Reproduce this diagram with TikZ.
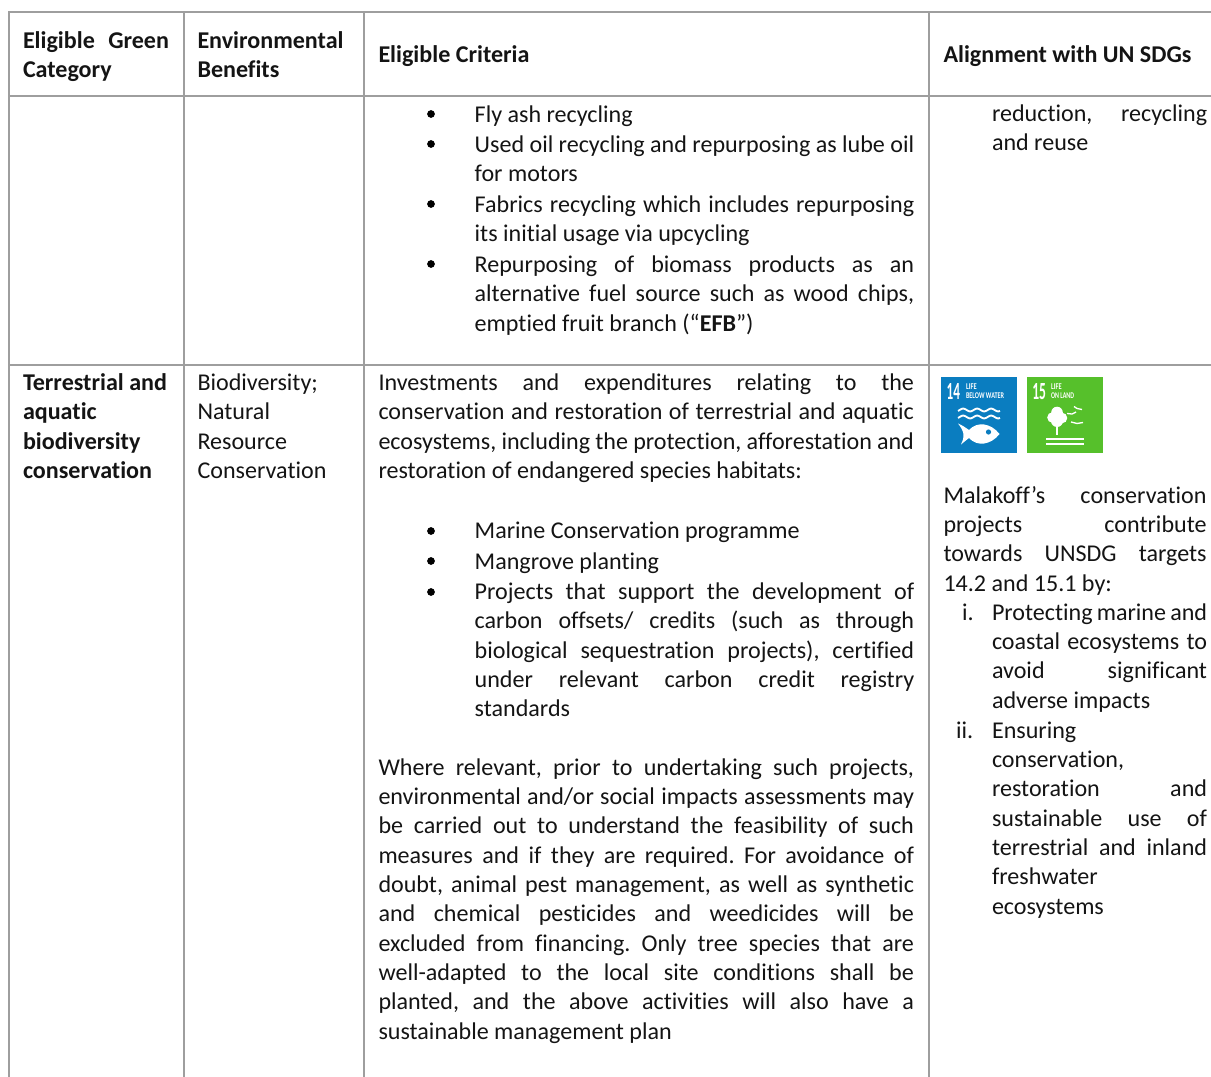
\documentclass[tikz,border=0pt]{standalone}
\usepackage{fontspec}
\usepackage{graphicx}
\setmainfont[Ligatures=NoCommon]{Carlito}
\newcommand{\Jn}[1]{\hbox to\hsize{#1}}
\newcommand{\Ln}[1]{\hbox to\hsize{#1\hfil}}
\newcommand{\para}[2]{\vtop{\hsize=#1pt\baselineskip=22pt\lineskiplimit=-10pt\relax #2}}
\newcommand{\fitbox}[3]{\resizebox{#1pt}{#2pt}{#3}}
\newcommand{\sdglabel}[2]{\vtop{\offinterlineskip\hbox{#1}\vskip2.45pt\hbox{#2}}}
\definecolor{sdgblue}{RGB}{10,125,192}
\definecolor{sdggreen}{RGB}{86,192,43}
\tikzset{
  rule/.style={draw=black!38,line width=1.5pt},
  txt/.style={anchor=base west,inner sep=0pt,outer sep=0pt,font=\fontsize{18.05}{22}\selectfont,text=black!92},
  hd/.style={txt,font=\fontsize{18.05}{22}\selectfont\bfseries},
  bul/.style={circle,fill=black,inner sep=0pt,minimum size=5.8pt},
  ic/.style={anchor=north west,inner sep=0pt,outer sep=0pt,text=white,font=\bfseries},
  icl/.style={anchor=base west,inner sep=0pt,outer sep=0pt,text=white,font=\fontsize{5}{5}\selectfont\bfseries},
  wv/.style={draw=white,line width=1.4pt},
  bird/.style={draw=white,line width=1pt}
}
\begin{document}
\begin{tikzpicture}[x=0.75pt,y=-0.75pt]
\useasboundingbox (0,0) rectangle (1211,1077);
% rules
\draw[rule] (9.2,1077) -- (9.2,12) -- (1211,12);
\draw[rule] (9.2,96) -- (1211,96);
\draw[rule] (9.2,365) -- (1211,365);
\draw[rule] (184,12) -- (184,1077);
\draw[rule] (364,12) -- (364,1077);
\draw[rule] (929,12) -- (929,1077);
% header
\node[hd] (h1) at (23,48.6) {\para{109.5}{\Jn{Eligible\hfil Green}\Ln{Category}}};
\node[hd] (h2) at (197.5,48.6) {\para{150}{\Ln{Environmental}\Ln{Benefits}}};
\node[hd] (h3) at (378.5,63) {Eligible Criteria};
\node[hd] (h4) at (943.5,63) {Alignment with UN SDGs};
% upper row
\node[bul] (b1) at (431,114) {};
\node[txt] (u1) at (474.7,122.3) {Fly ash recycling};
\node[bul] (b2) at (431,144) {};
\node[txt] (u2) at (474.7,152.3) {\para{329.6}{\Jn{Used\hfil oil\hfil recycling\hfil and\hfil repurposing\hfil as\hfil lube\hfil oil}\Ln{for motors}}};
\node[bul] (b3) at (431,204) {};
\node[txt] (u3) at (474.7,212.5) {\para{329.6}{\Jn{Fabrics\hfil recycling\hfil which\hfil includes\hfil repurposing}\Ln{its initial usage via upcycling}}};
\node[bul] (b4) at (431,264) {};
\node[txt] (u4) at (474.7,272.6) {\para{329.6}{\Jn{Repurposing\hfil of\hfil biomass\hfil products\hfil as\hfil an}\Jn{alternative\hfil fuel\hfil source\hfil such\hfil as\hfil wood\hfil chips,}\Ln{emptied fruit branch (“\textbf{EFB}”)}}};
\node[txt] (u5) at (992,121.6) {\para{161.3}{\Jn{reduction,\hfil recycling}\Ln{and reuse}}};
% lower row
\node[hd] (c1) at (23,390.4) {\para{146}{\Ln{Terrestrial and}\Ln{aquatic}\Ln{biodiversity}\Ln{conservation}}};
\node[txt] (c2) at (197.5,390.4) {\para{130}{\Ln{Biodiversity;}\Ln{Natural}\Ln{Resource}\Ln{Conservation}}};
\node[txt] (c3) at (378.5,390.4) {\para{401.6}{\Jn{Investments\hfil and\hfil expenditures\hfil relating\hfil to\hfil the}\Jn{conservation\hfil and\hfil restoration\hfil of\hfil terrestrial\hfil and\hfil aquatic}\Jn{ecosystems,\hfil including\hfil the\hfil protection,\hfil afforestation\hfil and}\Ln{restoration of endangered species habitats:}}};
\node[bul] (b5) at (431,531) {};
\node[txt] (l1) at (474.7,538.5) {Marine Conservation programme};
\node[bul] (b6) at (431,561) {};
\node[txt] (l2) at (474.7,569) {Mangrove planting};
\node[bul] (b7) at (431,592) {};
\node[txt] (l3) at (474.7,599.5) {\para{329.6}{\Jn{Projects\hfil that\hfil support\hfil the\hfil development\hfil of}\Jn{carbon\hfil offsets/\hfil credits\hfil (such\hfil as\hfil through}\Jn{biological\hfil sequestration\hfil projects),\hfil certified}\Jn{under\hfil relevant\hfil carbon\hfil credit\hfil registry}\Ln{standards}}};
\node[txt] (c4) at (378.5,775.2) {\para{401.6}{\Jn{Where\hfil relevant,\hfil prior\hfil to\hfil undertaking\hfil such\hfil projects,}\Jn{environmental\hfil and/or\hfil social\hfil impacts\hfil assessments\hfil may}\Jn{be\hfil carried\hfil out\hfil to\hfil understand\hfil the\hfil feasibility\hfil of\hfil such}\Jn{measures\hfil and\hfil if\hfil they\hfil are\hfil required.\hfil For\hfil avoidance\hfil of}\Jn{doubt,\hfil animal\hfil pest\hfil management,\hfil as\hfil well\hfil as\hfil synthetic}\Jn{and\hfil chemical\hfil pesticides\hfil and\hfil weedicides\hfil will\hfil be}\Jn{excluded\hfil from\hfil financing.\hfil Only\hfil tree\hfil species\hfil that\hfil are}\Jn{well-adapted\hfil to\hfil the\hfil local\hfil site\hfil conditions\hfil shall\hfil be}\Jn{planted,\hfil and\hfil the\hfil above\hfil activities\hfil will\hfil also\hfil have\hfil a}\Ln{sustainable management plan}}};
\node[txt] (r1) at (943.5,503.3) {\para{197.3}{\Jn{Malakoff’s\hfil conservation}\Jn{projects\hfil contribute}\Jn{towards\hfil UNSDG\hfil targets}\Ln{14.2 and 15.1 by:}}};
\node[txt] (ri) at (962,620) {i.};
\node[txt] (r2) at (992,620) {\para{161.3}{\Jn{Protecting\hfil marine\hfil and}\Jn{coastal\hfil ecosystems\hfil to}\Jn{avoid\hfil significant}\Ln{adverse impacts}}};
\node[txt] (rii) at (956,738) {ii.};
\node[txt] (r3) at (992,738) {\para{161.3}{\Ln{Ensuring}\Ln{conservation,}\Jn{restoration\hfil and}\Jn{sustainable\hfil use\hfil of}\Jn{terrestrial\hfil and\hfil inland}\Ln{freshwater}\Ln{ecosystems}}};
% SDG 14
\begin{scope}[shift={(941,377)}]
\fill[sdgblue] (0,0) rectangle (76,76);
\node[ic] (n14) at (5.7,6.3) {\fitbox{10}{12}{14}};
\node[icl] (t14) at (25,12.7) {\sdglabel{\fitbox{8}{4.3}{LIFE}}{\fitbox{28.5}{4.3}{BELOW WATER}}};
\draw[wv] plot[smooth,domain=17:59,samples=50] (\x,{33+1.4*sin(\x/14*360+60)});
\draw[wv] plot[smooth,domain=17:59,samples=50] (\x,{40+1.4*sin(\x/14*360+60)});
\fill[white] (17,46.5) .. controls (21,48) and (25,51) .. (28,53) .. controls (36,44) and (50,46) .. (58.5,57) .. controls (50,68) and (36,70) .. (28,61) .. controls (25,63) and (22,66) .. (20,67.5) .. controls (22,63) and (23,60) .. (22.5,57) .. controls (22,54) and (20,50) .. (17,46.5) -- cycle;
\fill[sdgblue] (47.5,55) circle (2.6);
\end{scope}
% SDG 15
\begin{scope}[shift={(1027,377)}]
\fill[sdggreen] (0,0) rectangle (76,76);
\node[ic] (n15) at (5.3,6.3) {\fitbox{10.3}{12}{15}};
\node[icl] (t15) at (24,12.7) {\sdglabel{\fitbox{8}{4.3}{LIFE}}{\fitbox{17.3}{4.3}{ON LAND}}};
\fill[white] (30,35.5) circle (5.8);
\fill[white] (25.5,40.5) circle (5.3);
\fill[white] (35,41) circle (5.3);
\fill[white] (30,44) circle (6);
\fill[white] (29,49) rectangle (31,58);
\fill[white] (19,61) rectangle (56.5,63);
\fill[white] (19,65.5) rectangle (56.5,68);
\draw[bird] (47,29.5) -- (50,31.5) -- (55,32.5);
\draw[bird] (40,36.5) -- (45,37) -- (49,35);
\draw[bird] (44,45) -- (50,46.5) -- (56,45.5);
\end{scope}
\end{tikzpicture}
\end{document}
